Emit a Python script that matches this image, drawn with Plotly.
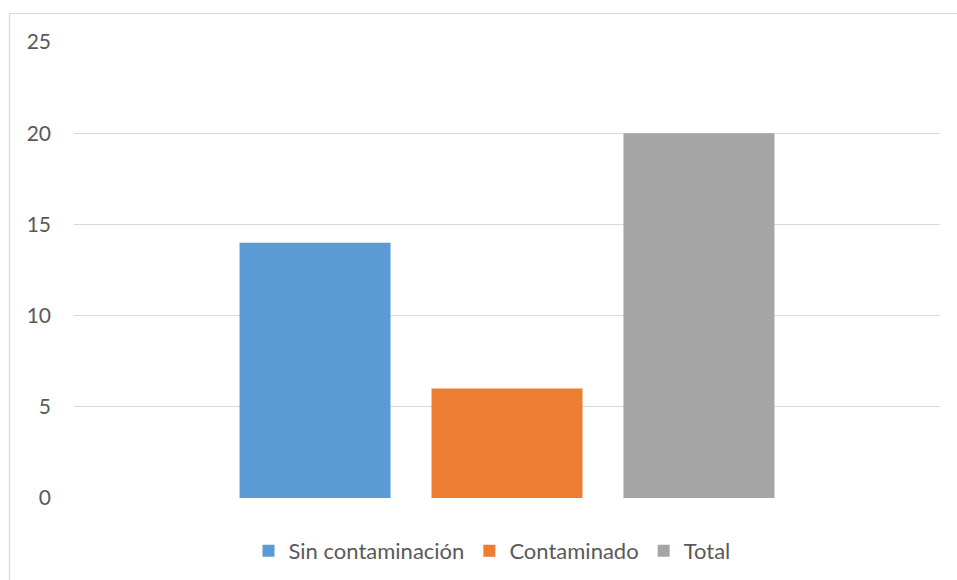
import plotly.graph_objects as go

categories = ["Muestras"]
series_names = ["Sin contaminación", "Contaminado", "Total"]
series_values = [[14], [6], [20]]
colors = ["#5B9BD5", "#ED7D31", "#A5A5A5"]
y_ticks = [0, 5, 10, 15, 20, 25]

W, H = 957, 580
L, R, T, B = 74, 17, 42, 82
pw, ph = W - L - R, H - T - B

fig = go.Figure()
for name, vals, col in zip(series_names, series_values, colors):
    fig.add_trace(go.Bar(x=categories, y=vals, name=name, marker=dict(color=col, line=dict(width=0))))

def px_x(p):
    return (p - L) / pw

def px_y(p):
    return 1 + (T - p) / ph

fig.add_shape(type="rect", xref="paper", yref="paper",
              x0=px_x(9.5), x1=px_x(970), y0=px_y(590), y1=px_y(13.5),
              line=dict(color="#d9d9d9", width=1.2), fillcolor="rgba(0,0,0,0)", layer="below")

fig.update_layout(
    width=W, height=H,
    margin=dict(l=L, r=R, t=T, b=B, autoexpand=False),
    paper_bgcolor="white", plot_bgcolor="white",
    barmode="group", bargap=0.335, bargroupgap=0.2135,
    font=dict(family="Lato, Open Sans, sans-serif", color="#595959", size=20),
    showlegend=True,
    legend=dict(orientation="h", x=px_x(492), xanchor="center", y=px_y(551), yanchor="middle",
                font=dict(size=22, color="#595959"), itemsizing="constant", traceorder="normal",
                tracegroupgap=0, itemwidth=30),
    xaxis=dict(showticklabels=False, showgrid=False, zeroline=False, showline=False, ticks=""),
    yaxis=dict(range=[0, 25], tickvals=y_ticks, showgrid=True, gridcolor="#d9d9d9", gridwidth=1,
               zeroline=False, showline=False, ticks="", ticklabelstandoff=22,
               tickfont=dict(size=21, color="#595959")),
)
fig.write_html("out.html")
